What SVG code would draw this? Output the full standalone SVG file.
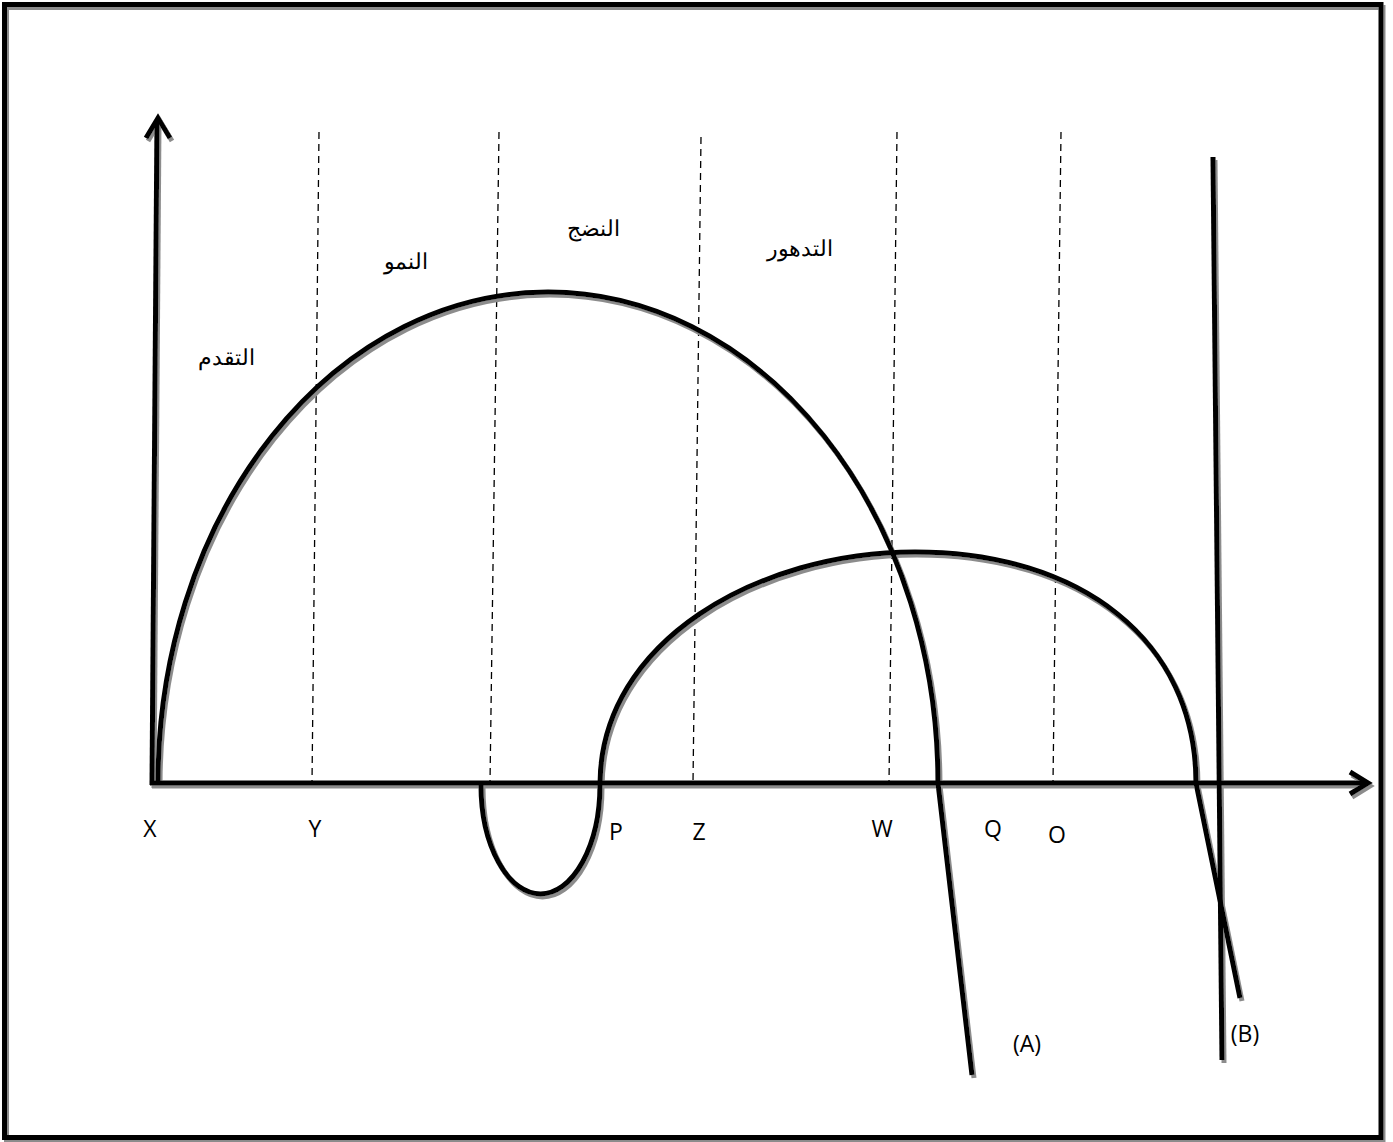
<svg xmlns="http://www.w3.org/2000/svg" width="1393" height="1142" viewBox="0 0 1393 1142">
<defs>
<filter id="sh" x="-5%" y="-5%" width="110%" height="110%">
<feDropShadow dx="2" dy="3" stdDeviation="0.6" flood-color="#8c8c8c" flood-opacity="1"/>
</filter>
<style>
.ln{fill:none;stroke:#000;stroke-width:5;stroke-linecap:butt;stroke-linejoin:miter}
.ax{fill:none;stroke:#000;stroke-width:5}
.ds{fill:none;stroke:#000;stroke-width:1.3;stroke-dasharray:7,5}
.lat{font-family:"Open Sans","Liberation Sans",sans-serif;font-size:23px;fill:#000;text-anchor:middle}
.ar{font-family:"Liberation Sans","Noto Sans",sans-serif;font-size:22px;fill:#000;text-anchor:middle}
</style>
</defs>
<rect width="1393" height="1142" fill="#fff"/>
<g id="frame" filter="url(#sh)">
<rect x="4.5" y="4.5" width="1376.5" height="1133" fill="none" stroke="#000" stroke-width="5"/>
</g>
<g id="dividers">
<line class="ds" x1="319" y1="132" x2="312" y2="783"/>
<line class="ds" x1="499" y1="132" x2="490" y2="783"/>
<line class="ds" x1="701" y1="137" x2="693" y2="783"/>
<line class="ds" x1="897" y1="132" x2="889" y2="783"/>
<line class="ds" x1="1061" y1="132" x2="1053" y2="783"/>
</g>
<g id="connectors" filter="url(#sh)">
<g id="axes">
<path class="ax" d="M152,785 L157,120"/>
<path class="ax" d="M146,138 L158,118 L170,138"/>
<path class="ax" d="M150,783 L1366,783"/>
<path class="ax" d="M1350,772 L1368,783 L1350,794"/>
</g>
<path id="curveA" class="ln" d="M158,783 A390,491 0 0 1 938,783 L972,1075"/>
<path id="curveB" class="ln" d="M481,785 A59,108 0 0 0 600,785 C600,640 760,552 915,552 C1080,552 1196,640 1196,783 L1240,998"/>
<path id="lineB" class="ax" d="M1213,157 L1222,1060"/>
</g>
<g id="labels">
<text class="ar" x="226" y="365">التقدم</text>
<text class="ar" x="406" y="269">النمو</text>
<text class="ar" x="593" y="236">النضج</text>
<text class="ar" x="800" y="256">التدهور</text>
<text class="lat" x="150" y="837">X</text>
<text class="lat" x="315" y="837">Y</text>
<text class="lat" x="616" y="840">P</text>
<text class="lat" x="699" y="840">Z</text>
<text class="lat" x="882" y="837">W</text>
<text class="lat" x="993" y="837">Q</text>
<text class="lat" x="1057" y="843">O</text>
<text class="lat" x="1027" y="1052">(A)</text>
<text class="lat" x="1245" y="1042">(B)</text>
</g>
</svg>
